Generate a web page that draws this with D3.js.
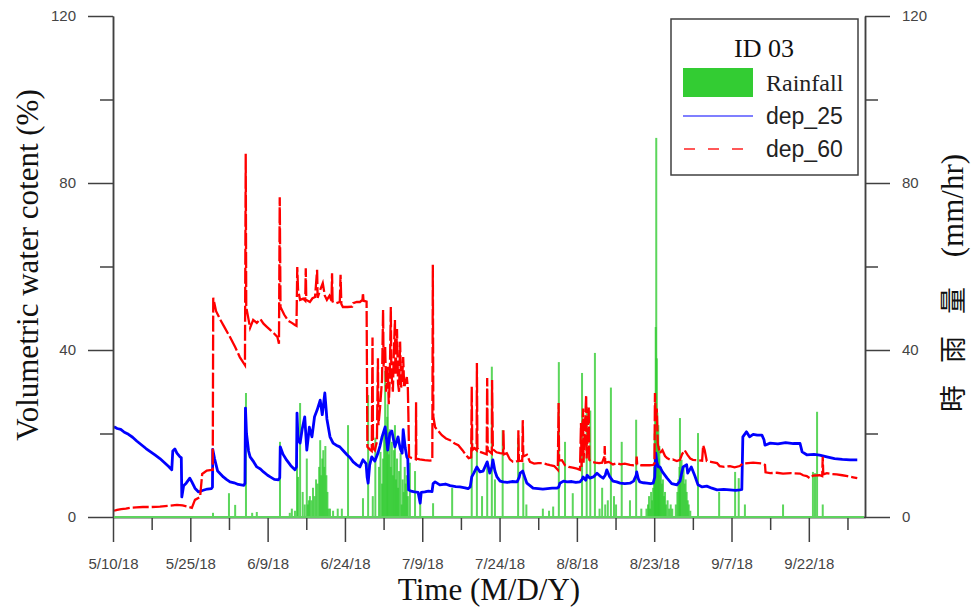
<!DOCTYPE html>
<html>
<head>
<meta charset="utf-8">
<script src="https://cdn.jsdelivr.net/npm/d3@7"></script>
<style>
  body { margin: 0; background: #fff; }
  svg { display: block; }
</style>
</head>
<body>
<svg id="chart" width="973" height="610"></svg>
<script>
// ---- data -------------------------------------------------------------
// day offsets are counted from the first day of the record (5/10/18)
const startLabel = "5/10/18";
const spanDays = 145.9;
const xTickLabels = ["5/10/18", "5/25/18", "6/9/18", "6/24/18", "7/9/18",
                     "7/24/18", "8/8/18", "8/23/18", "9/7/18", "9/22/18"];
const yTicks = [0, 40, 80, 120];
const yMinorTicks = [20, 60, 100];

// hourly rainfall peaks [day, mm/hr]
const rainfall = [
  [19.4,1.0],[22.5,5.7],[23.7,2.9],[25.8,29.7],[27.0,1.0],[27.9,1.2],[32.4,18.0],
  [34.3,1.0],[34.7,2.0],[35.3,1.5],[35.7,16.8],[35.9,9.6],[36.3,27.3],[36.8,6.0],
  [37.2,3.0],[37.6,14.0],[37.8,3],[38.0,4],[38.2,5],[38.5,4],[38.8,7],[39.1,5],[39.4,9],
  [39.7,8],[40.0,12],[40.2,18.4],[40.4,10],[40.6,14],[40.8,16],[41.0,12],[41.2,17],
  [41.4,10],[41.6,6],[41.8,2],[42.1,2.0],[42.7,1.5],[43.6,2.0],[44.4,2.0],[45.6,22.0],
  [48.5,4.5],[49.5,29.2],[50.4,5.0],[50.9,19.0],[51.6,12.0],[51.9,15.6],[52.2,8],
  [52.4,14],[52.6,20],[52.8,35],[53.0,18],[53.2,24],[53.3,27],[53.5,15],[53.7,21],
  [53.9,12],[54.1,18],[54.3,10],[54.5,16],[54.7,22],[54.9,9],[55.1,14],[55.3,7],
  [55.5,11],[55.8,15.3],[56.0,3],[56.2,9],[56.4,6],[56.6,12.0],[56.8,8],[57.0,10],
  [57.2,5],[57.6,13.0],[58.6,11.0],[59.6,4.0],[62.1,3.3],[65.8,7.0],[69.6,19.2],
  [70.6,20.8],[71.6,5.0],[72.6,13.0],[73.5,36.0],[74.1,9.0],[75.6,20.8],[78.6,18.9],
  [79.6,13.0],[80.2,3.0],[83.4,2.0],[84.6,1.5],[85.4,2.5],[86.5,37.1],[87.7,18.0],
  [89.2,5.7],[91.0,34.5],[91.9,26.4],[92.6,25.5],[93.5,39.3],[94.4,2.0],[94.9,7.0],
  [95.5,3.0],[96.0,4.0],[96.6,31.0],[97.2,5.0],[97.6,3.0],[98.7,18.0],[100.3,4.0],
  [101.5,23.3],[102.5,2.0],[103.5,2],[103.8,3],[104.0,5],[104.2,2],[104.4,6],[104.6,4],
  [104.8,7],[105.0,12],[105.1,20],[105.2,27],[105.3,45.5],[105.4,90.8],[105.5,38],
  [105.6,25],[105.7,19],[105.8,22],[105.9,14],[106.0,17],[106.1,10],[106.3,12],
  [106.5,8],[106.7,9],[106.9,5],[107.1,6],[107.3,3],[107.6,4],[107.9,2],[108.2,3],
  [108.5,2],[109.2,3],[109.5,6],[109.7,9],[109.9,12],[110.0,23.7],[110.1,11],
  [110.3,13.7],[110.5,10],[110.7,12],[110.9,8],[111.1,9],[111.3,6],[111.5,4],[111.7,3],
  [112.0,1.5],[113.5,20.1],[117.6,6.0],[120.7,10.8],[121.4,9.3],[122.6,3.0],[130.0,3.0],
  [135.8,10.8],[136.2,10.5],[136.6,25.2],[137.7,3.0]
];

// volumetric water content at 25 cm [day, %]
const dep25 = [
  [0.2,21.6],[0.8,21.2],[1.5,21.0],[2.2,20.3],[3.0,19.8],[3.8,19.1],[4.6,18.2],[5.5,17.3],
  [6.4,16.4],[7.3,15.6],[8.2,14.8],[9.1,14.0],[10.0,13.0],[10.8,12.1],[11.4,11.3],
  [11.6,15.8],[12.0,16.3],[12.4,15.3],[13.0,14.4],[13.25,14.2],[13.35,4.8],[13.7,7.5],
  [14.2,8.1],[14.9,9.3],[15.3,8.4],[15.9,6.9],[16.6,6.0],[17.5,6.4],[18.3,6.7],[19.1,6.8],
  [19.3,7.2],[19.35,16.2],[19.7,14.0],[20.3,11.0],[21.4,9.6],[22.0,9.0],[22.7,8.4],
  [23.5,8.2],[24.3,7.8],[25.4,7.6],[25.6,8.0],[25.7,26.1],[25.9,20.0],[26.3,15.8],
  [26.6,14.4],[27.3,13.2],[27.9,12.0],[28.6,11.5],[29.2,10.8],[30.0,10.0],[30.5,9.6],
  [31.3,9.0],[32.1,8.9],[32.35,9.4],[32.45,16.8],[33.0,15.0],[33.7,13.6],[34.5,12.3],
  [35.3,11.3],[35.6,12.0],[35.7,24.9],[35.9,18.5],[36.3,17.7],[36.7,21.0],[37.2,24.0],
  [37.6,16.0],[38.1,21.5],[38.6,19.2],[39.1,24.0],[39.6,25.6],[40.2,28.0],[40.6,24.5],
  [41.1,29.7],[41.5,23.5],[42.1,19.2],[42.7,17.7],[43.3,17.2],[44.0,16.8],[44.6,16.0],
  [45.4,14.9],[46.0,14.2],[46.6,13.2],[47.3,12.5],[47.9,12.0],[48.5,13.7],[49.1,12.8],
  [49.3,9.6],[49.5,8.1],[49.8,12.5],[50.2,14.4],[50.8,13.4],[51.4,15.3],[51.8,17.0],
  [52.2,19.2],[52.8,21.6],[53.3,16.0],[53.7,20.0],[54.1,20.6],[54.7,16.8],[55.3,19.2],
  [55.7,16.5],[56.1,15.3],[56.3,20.9],[56.7,16.5],[57.0,14.4],[57.2,13.9],[57.35,6.5],
  [57.8,6.2],[58.5,6.0],[59.2,5.9],[59.6,3.3],[59.8,5.9],[60.5,6.0],[61.2,6.2],[61.9,6.1],
  [62.1,8.0],[62.5,8.4],[63.4,7.7],[64.5,7.9],[65.4,7.5],[66.5,7.3],[67.3,7.2],[68.3,7.0],
  [68.9,6.8],[69.3,7.2],[69.6,9.6],[70.0,10.5],[70.6,12.0],[71.2,10.8],[71.8,11.0],
  [72.6,13.2],[73.1,10.5],[73.5,12.0],[73.7,13.7],[74.1,11.0],[74.5,9.6],[75.1,8.6],
  [75.7,8.4],[76.5,8.3],[77.4,8.5],[78.4,8.4],[78.8,9.5],[79.0,10.5],[79.5,11.0],
  [79.9,9.5],[80.3,8.1],[80.9,7.5],[81.5,6.9],[82.5,6.8],[83.4,6.7],[84.3,6.8],[85.2,6.9],
  [86.1,6.9],[86.5,7.2],[86.7,8.1],[87.4,8.6],[88.1,8.4],[89.0,8.5],[89.8,8.3],[90.6,8.4],
  [91.0,9.0],[91.2,9.6],[91.7,8.8],[92.0,10.0],[92.5,9.3],[93.2,9.6],[93.9,10.5],
  [94.5,9.8],[95.1,9.3],[95.5,10.0],[95.8,11.3],[96.3,9.8],[97.0,8.6],[97.7,8.4],
  [98.4,8.1],[99.3,8.0],[100.3,8.1],[101.0,8.6],[101.5,10.0],[101.6,10.8],[101.9,9.2],
  [102.2,8.4],[102.9,8.2],[103.6,8.1],[104.3,8.0],[104.8,8.1],[105.1,9.5],[105.3,15.3],
  [105.5,13.2],[105.8,12.0],[106.1,12.0],[106.6,10.8],[107.5,9.3],[108.4,8.0],[109.4,7.7],
  [110.0,8.6],[110.6,12.0],[111.3,12.5],[111.5,10.5],[112.2,12.0],[112.9,9.8],[113.5,7.7],
  [114.3,7.2],[115.2,7.4],[116.2,6.9],[117.2,6.5],[118.5,6.6],[119.7,6.5],[120.8,6.4],
  [121.6,6.5],[122.0,6.6],[122.2,19.2],[122.9,20.4],[123.5,19.2],[124.2,19.8],[125.0,19.6],
  [125.9,19.6],[126.3,18.5],[126.5,17.2],[127.5,17.7],[129.0,17.5],[130.5,17.8],
  [132.0,17.6],[133.3,17.6],[133.7,15.6],[134.6,14.9],[136.0,15.0],[137.1,14.8],
  [138.5,14.4],[140.0,14.0],[141.5,13.8],[143.0,13.7],[144.4,13.7]
];

// volumetric water content at 60 cm [day, %]
const dep60 = [
  [0.2,1.5],[0.8,1.7],[1.6,1.9],[2.5,2.0],[3.3,2.2],[4.5,2.3],[5.8,2.4],[7.5,2.4],
  [9.1,2.5],[10.8,2.7],[12.4,2.9],[13.5,2.8],[14.5,2.5],[15.3,2.2],[15.9,4.1],[16.9,4.8],
  [17.3,10.3],[18.2,11.1],[19.2,11.3],[19.35,11.3],[19.45,52.5],[20.0,49.3],[20.8,47.3],
  [21.7,45.3],[22.7,43.1],[23.7,40.7],[24.6,38.3],[25.6,36.4],[25.75,87.0],[25.85,50.3],
  [26.2,48.0],[26.6,45.3],[27.2,47.2],[27.9,46.5],[28.6,47.4],[29.2,46.3],[29.9,45.5],
  [30.5,44.8],[31.3,43.9],[31.9,43.1],[32.2,41.5],[32.35,76.6],[32.5,50.3],[33.2,48.5],
  [34.0,47.0],[34.7,46.5],[35.3,46.0],[35.6,45.8],[35.75,59.9],[35.9,54.5],[36.3,52.0],
  [36.9,52.3],[37.3,51.8],[37.4,59.6],[37.5,52.0],[38.2,51.5],[38.7,52.4],[39.2,52.7],
  [39.6,59.2],[39.7,52.5],[40.2,54.4],[40.7,56.0],[41.1,53.0],[41.5,52.0],[42.0,53.0],
  [42.4,51.8],[42.5,58.4],[42.6,51.6],[43.3,51.2],[44.0,51.5],[44.15,58.0],[44.3,51.0],
  [44.6,50.3],[45.5,50.3],[46.4,50.4],[46.6,51.2],[47.3,51.5],[47.9,51.5],[48.4,52.0],
  [48.5,53.7],[48.6,51.8],[49.2,51.6],[49.35,16.8],[49.8,16.2],[50.2,15.8],[50.35,43.0],
  [50.45,16.5],[50.8,16.0],[51.2,18.0],[51.4,38.0],[51.5,22.0],[51.8,26.0],[52.2,33.0],
  [52.4,49.6],[52.5,36.0],[52.8,41.0],[53.0,30.0],[53.3,36.0],[53.5,27.0],[53.7,33.0],
  [53.9,50.3],[54.0,35.0],[54.3,30.0],[54.5,40.0],[54.7,47.2],[54.8,34.0],[55.1,45.0],
  [55.3,32.0],[55.5,30.0],[55.7,42.0],[55.9,31.0],[56.1,33.0],[56.3,38.3],[56.5,31.0],
  [56.8,32.5],[57.0,33.5],[57.2,31.0],[57.3,25.0],[57.45,14.4],[57.8,14.2],[58.3,14.0],
  [58.75,13.8],[58.8,27.5],[58.85,14.0],[59.5,13.8],[60.5,13.6],[61.5,13.5],[61.95,13.6],
  [62.05,60.4],[62.15,24.0],[62.5,21.5],[63.0,20.8],[63.8,19.6],[64.6,18.8],[65.4,18.4],
  [66.3,17.6],[67.0,17.2],[67.8,16.0],[68.5,14.8],[69.0,14.1],[69.5,14.3],[69.6,31.2],
  [69.7,16.0],[70.1,16.5],[70.55,16.0],[70.6,36.9],[70.7,16.5],[71.2,15.6],[71.9,15.3],
  [72.5,15.0],[72.6,33.3],[72.7,16.0],[73.1,15.6],[73.5,15.2],[73.55,32.8],[73.7,16.2],
  [74.4,15.5],[75.1,15.3],[75.7,15.2],[75.75,20.8],[75.85,15.0],[76.4,15.3],[77.0,13.8],
  [77.6,13.2],[78.4,13.4],[78.6,13.4],[78.65,20.8],[78.75,13.5],[79.4,13.4],[79.5,23.2],
  [79.6,14.5],[80.3,14.9],[80.9,13.2],[81.7,12.8],[82.5,12.9],[83.4,12.9],[84.2,12.6],
  [84.8,12.4],[85.6,12.2],[86.3,11.3],[86.45,27.3],[86.55,13.5],[87.1,13.6],[87.7,12.4],
  [88.4,12.0],[89.2,11.8],[90.0,11.6],[90.6,11.3],[90.8,22.5],[90.9,12.0],[91.2,26.0],
  [91.3,13.0],[91.8,29.2],[91.9,14.0],[92.3,26.4],[92.4,13.7],[92.9,13.2],[93.6,13.0],
  [94.3,12.9],[94.9,13.0],[95.35,14.5],[95.4,17.0],[95.5,13.0],[96.2,13.2],[97.0,12.6],
  [97.8,12.9],[98.5,12.6],[99.3,12.8],[100.3,12.5],[101.0,12.4],[101.55,12.5],[101.6,14.5],
  [101.7,12.6],[102.5,12.4],[103.4,12.4],[104.1,12.4],[104.8,12.5],[105.05,12.8],
  [105.15,29.7],[105.3,23.0],[105.5,26.0],[105.7,17.5],[106.1,15.3],[106.6,16.0],
  [107.1,14.6],[107.5,14.1],[108.1,13.7],[108.6,13.8],[109.4,13.4],[110.0,13.7],
  [110.4,15.0],[110.9,16.0],[111.5,14.8],[112.0,14.0],[112.5,13.7],[113.5,13.6],
  [114.3,13.5],[114.5,17.2],[114.8,16.0],[115.2,13.4],[116.0,13.2],[117.2,12.9],
  [117.7,12.2],[118.6,12.0],[119.7,12.2],[120.6,11.9],[121.6,12.2],[122.2,12.8],
  [123.2,12.9],[124.2,13.0],[125.2,12.9],[126.1,12.8],[126.5,12.5],[126.6,10.7],
  [127.5,10.5],[128.8,10.6],[130.0,10.4],[131.5,10.5],[133.3,10.4],[133.9,10.0],
  [134.6,9.8],[135.2,9.3],[135.8,9.9],[137.1,10.0],[137.6,9.8],[137.7,14.4],[137.8,10.2],
  [138.5,10.5],[139.5,10.3],[140.4,10.2],[141.5,10.0],[142.5,9.8],[143.6,9.5],[144.4,9.3]
];

// ---- layout -----------------------------------------------------------
const plot = { left: 113, right: 865, top: 16, bottom: 517 };
const parseDate = d3.utcParse("%m/%d/%y");
const t0 = parseDate(startLabel);
const toDate = day => d3.utcMinute.offset(t0, Math.round(day * 1440));

const x = d3.scaleUtc()
  .domain([t0, toDate(spanDays)])
  .range([plot.left, plot.right]);
const yLeft = d3.scaleLinear().domain([0, 120]).range([plot.bottom, plot.top]);
const yRight = d3.scaleLinear().domain([0, 120]).range([plot.bottom, plot.top]);

const svg = d3.select("#chart");
const axisColor = "#404040";
const sans = "'Liberation Sans', Arial, sans-serif";
const serif = "'Liberation Serif', 'Times New Roman', serif";

svg.append("defs").append("clipPath").attr("id", "plotClip")
  .append("rect")
  .attr("x", plot.left).attr("y", plot.top - 2)
  .attr("width", plot.right - plot.left).attr("height", plot.bottom - plot.top + 2);

const body = svg.append("g").attr("clip-path", "url(#plotClip)");

// rainfall bars (right axis)
body.append("g").selectAll("rect").data(rainfall).join("rect")
  .attr("x", d => x(toDate(d[0])) - 1)
  .attr("width", 2)
  .attr("y", d => yRight(d[1]))
  .attr("height", d => yRight(0) - yRight(d[1]))
  .attr("fill", "#33cc33")
  .attr("fill-opacity", 0.8);

const line = d3.line()
  .x(d => x(toDate(d[0])))
  .y(d => yLeft(d[1]));

body.append("path").datum(dep25)
  .attr("d", line)
  .attr("fill", "none")
  .attr("stroke", "#0000ff")
  .attr("stroke-width", 2.8)
  .attr("stroke-linejoin", "round");

body.append("path").datum(dep60)
  .attr("d", line)
  .attr("fill", "none")
  .attr("stroke", "#ff0000")
  .attr("stroke-width", 2.3)
  .attr("stroke-dasharray", "16,3");

// ---- axes -------------------------------------------------------------
function styleAxis(g) {
  g.selectAll("path.domain").attr("stroke", axisColor).attr("stroke-width", 1.5);
  g.selectAll(".tick line").attr("stroke", axisColor).attr("stroke-width", 1.5);
  g.selectAll(".tick text").attr("fill", "#444").attr("font-family", sans).attr("font-size", 15);
}

const majorDates = xTickLabels.map(parseDate);
const minorDates = majorDates.map(d => d3.utcHour.offset(d, 180));

svg.append("g")
  .attr("transform", `translate(0,${plot.bottom})`)
  .call(d3.axisBottom(x).tickValues(minorDates).tickSize(13).tickSizeOuter(0).tickFormat(""))
  .call(styleAxis);
svg.append("g")
  .attr("transform", `translate(0,${plot.bottom})`)
  .call(d3.axisBottom(x).tickValues(majorDates).tickSize(25).tickSizeOuter(0)
    .tickPadding(16).tickFormat((d, i) => xTickLabels[i]))
  .call(styleAxis);

svg.append("g")
  .attr("transform", `translate(${plot.left},0)`)
  .call(d3.axisLeft(yLeft).tickValues(yMinorTicks).tickSize(13).tickSizeOuter(0).tickFormat(""))
  .call(styleAxis);
const leftMajor = svg.append("g")
  .attr("transform", `translate(${plot.left},0)`)
  .call(d3.axisLeft(yLeft).tickValues(yTicks).tickSize(25).tickSizeOuter(0).tickPadding(12))
  .call(styleAxis);
leftMajor.selectAll(".tick text").attr("x", -37).attr("text-anchor", "end");

svg.append("g")
  .attr("transform", `translate(${plot.right},0)`)
  .call(d3.axisRight(yRight).tickValues(yMinorTicks).tickSize(13).tickSizeOuter(0).tickFormat(""))
  .call(styleAxis);
svg.append("g")
  .attr("transform", `translate(${plot.right},0)`)
  .call(d3.axisRight(yRight).tickValues(yTicks).tickSize(25).tickSizeOuter(0).tickPadding(12))
  .call(styleAxis);

// rainfall zero line, drawn over the bottom axis
svg.append("line")
  .attr("x1", x(toDate(0)) + 1).attr("x2", x(toDate(spanDays)) - 1)
  .attr("y1", yRight(0)).attr("y2", yRight(0))
  .attr("stroke", "#5fd35f").attr("stroke-width", 2);

// ---- axis titles ------------------------------------------------------
svg.append("text")
  .attr("x", 489).attr("y", 600)
  .attr("text-anchor", "middle")
  .attr("font-family", serif).attr("font-size", 31).attr("fill", "#111")
  .text("Time (M/D/Y)");

svg.append("text")
  .attr("transform", "translate(38,265) rotate(-90)")
  .attr("text-anchor", "middle")
  .attr("font-family", serif).attr("font-size", 31).attr("fill", "#111")
  .text("Volumetric water cotent (%)");

const rightTitle = svg.append("text")
  .attr("transform", "translate(963,412) rotate(-90)")
  .attr("text-anchor", "start")
  .attr("fill", "#111");
rightTitle.append("tspan")
  .attr("font-family", "'Noto Sans CJK TC', 'Noto Sans CJK SC', sans-serif")
  .attr("font-size", 27).attr("letter-spacing", 22)
  .text("時雨量");
rightTitle.append("tspan")
  .attr("font-family", serif).attr("font-size", 31)
  .text(" (mm/hr)");

// ---- legend -----------------------------------------------------------
const legend = svg.append("g");
legend.append("rect")
  .attr("x", 671).attr("y", 19).attr("width", 187).attr("height", 156)
  .attr("fill", "#fff").attr("stroke", axisColor).attr("stroke-width", 1.5);
legend.append("text")
  .attr("x", 764).attr("y", 57).attr("text-anchor", "middle")
  .attr("font-family", serif).attr("font-size", 26).attr("fill", "#111")
  .text("ID 03");
legend.append("rect")
  .attr("x", 683).attr("y", 68).attr("width", 70).attr("height", 29)
  .attr("fill", "#33cc33");
legend.append("text")
  .attr("x", 766).attr("y", 91)
  .attr("font-family", serif).attr("font-size", 24).attr("fill", "#222")
  .text("Rainfall");
legend.append("line")
  .attr("x1", 683).attr("x2", 753).attr("y1", 116).attr("y2", 116)
  .attr("stroke", "#5555ff").attr("stroke-width", 1.5);
legend.append("text")
  .attr("x", 766).attr("y", 124)
  .attr("font-family", sans).attr("font-size", 23).attr("fill", "#222")
  .text("dep_25");
legend.append("line")
  .attr("x1", 684).attr("x2", 755).attr("y1", 149).attr("y2", 149)
  .attr("stroke", "#ff2222").attr("stroke-width", 1.5)
  .attr("stroke-dasharray", "11,13");
legend.append("text")
  .attr("x", 766).attr("y", 157)
  .attr("font-family", sans).attr("font-size", 23).attr("fill", "#222")
  .text("dep_60");
</script>
</body>
</html>
